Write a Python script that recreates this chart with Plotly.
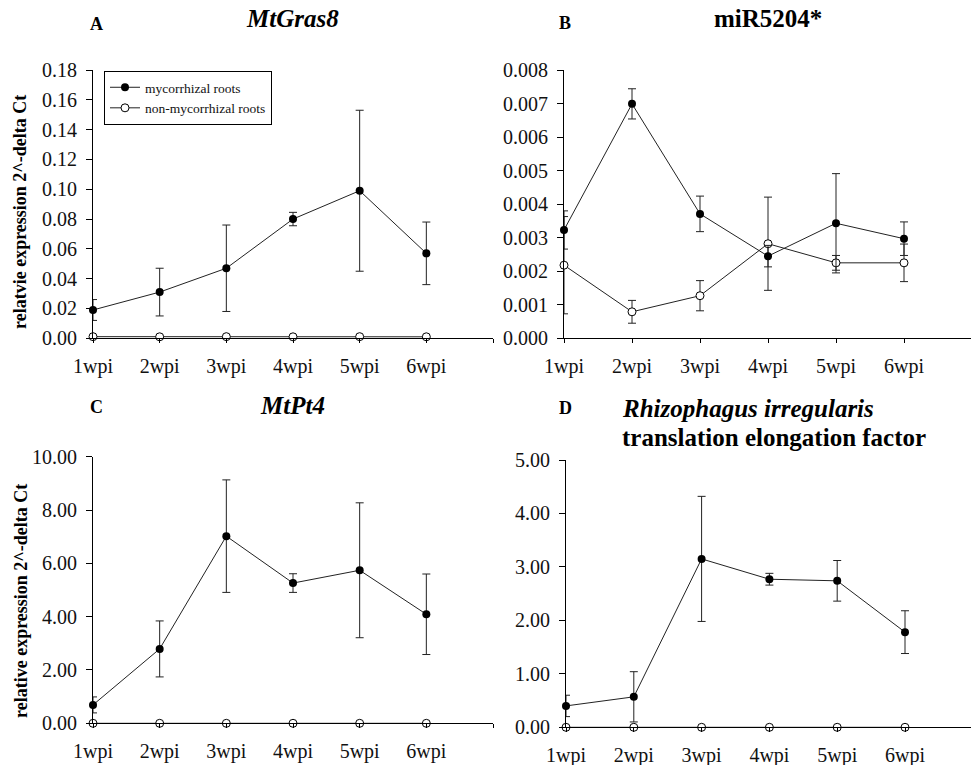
import plotly.graph_objects as go

W, H = 971, 765

weeks = ["1wpi", "2wpi", "3wpi", "4wpi", "5wpi", "6wpi"]
xpos = [1, 2, 3, 4, 5, 6]

# Panel A: MtGras8
a_myc = [0.019, 0.031, 0.047, 0.080, 0.099, 0.057]
a_myc_err = [0.007, 0.016, 0.029, 0.0045, 0.054, 0.021]
a_non = [0.0011, 0.0010, 0.0011, 0.0010, 0.0011, 0.0010]

# Panel B: miR5204*
b_myc = [0.00323, 0.00699, 0.00371, 0.00245, 0.00343, 0.00297]
b_myc_err = [0.00057, 0.00045, 0.00053, 0.00032, 0.00148, 0.00050]
b_non = [0.00218, 0.00079, 0.00127, 0.00282, 0.00225, 0.00225]
b_non_err = [0.00145, 0.00034, 0.00045, 0.00139, 0.00022, 0.00056]

# Panel C: MtPt4
c_myc = [0.69, 2.79, 7.02, 5.26, 5.74, 4.09]
c_myc_err = [0.30, 1.05, 2.11, 0.35, 2.53, 1.51]
c_non = [0.0, 0.0, 0.0, 0.0, 0.0, 0.0]

# Panel D: Rhizophagus irregularis translation elongation factor
d_myc = [0.40, 0.57, 3.15, 2.77, 2.74, 1.78]
d_myc_err = [0.20, 0.47, 1.17, 0.11, 0.38, 0.40]
d_non = [0.0, 0.0, 0.0, 0.0, 0.0, 0.0]

FONT = "Liberation Serif, Times New Roman, serif"


def px(x):
    return x / W


def py(y):
    return 1 - y / H


fig = go.Figure()

panels = [
    ("", a_myc, a_myc_err, a_non, None),
    ("2", b_myc, b_myc_err, b_non, b_non_err),
    ("3", c_myc, c_myc_err, c_non, None),
    ("4", d_myc, d_myc_err, d_non, None),
]

for sfx, myc, myc_err, non, non_err in panels:
    xa = "x" + sfx
    ya = "y" + sfx
    fig.add_trace(go.Scatter(
        x=xpos, y=non, xaxis=xa, yaxis=ya, mode="lines+markers",
        name="non-mycorrhizal roots", showlegend=False,
        line=dict(color="#222", width=1),
        marker=dict(symbol="circle", size=8, color="white", line=dict(color="black", width=1)),
        error_y=(dict(type="data", array=non_err, visible=True, color="#222", thickness=1, width=4)
                 if non_err is not None else None),
        cliponaxis=False,
    ))
    fig.add_trace(go.Scatter(
        x=xpos, y=myc, xaxis=xa, yaxis=ya, mode="lines+markers",
        name="mycorrhizal roots", showlegend=False,
        line=dict(color="#222", width=1),
        marker=dict(symbol="circle", size=8, color="black"),
        error_y=dict(type="data", array=myc_err, visible=True, color="#222", thickness=1, width=4),
        cliponaxis=False,
    ))

# legend entries (panel A)
fig.add_trace(go.Scatter(x=[None], y=[None], mode="lines+markers", name="mycorrhizal roots",
                         line=dict(color="#222", width=1),
                         marker=dict(size=8, color="black")))
fig.add_trace(go.Scatter(x=[None], y=[None], mode="lines+markers", name="non-mycorrhizal roots",
                         line=dict(color="#222", width=1),
                         marker=dict(size=8, color="white", line=dict(color="black", width=1))))

common_x = dict(showline=True, linecolor="black", linewidth=1, ticks="outside", ticklen=4,
                tickcolor="black", showgrid=False, zeroline=False, automargin=False,
                ticklabelstandoff=6,
                tickvals=[1, 2, 3, 4, 5, 6, 7], ticktext=weeks + [""],
                tickfont=dict(family=FONT, size=20, color="#111"))
common_y = dict(showline=True, linecolor="black", linewidth=1, ticks="outside", ticklen=6,
                tickcolor="black", showgrid=False, zeroline=False, automargin=False,
                ticklabelstandoff=5,
                tickfont=dict(family=FONT, size=20, color="#111"))

fig.update_layout(
    width=W, height=H, margin=dict(l=0, r=0, t=0, b=0, autoexpand=False), autosize=False,
    plot_bgcolor="white", paper_bgcolor="white",
    xaxis=dict(domain=[px(93), px(493)], range=[1, 7], anchor="y", **common_x),
    yaxis=dict(domain=[py(338.3), py(70)], range=[0, 0.18], dtick=0.02, tickformat=".2f",
               anchor="x", **common_y),
    xaxis2=dict(domain=[px(564), 1.0], range=[1, 1 + (971 - 564) / 68.0], anchor="y2", **common_x),
    yaxis2=dict(domain=[py(338.3), py(70)], range=[0, 0.008], dtick=0.001, tickformat=".3f",
                anchor="x2", **common_y),
    xaxis3=dict(domain=[px(93), px(493)], range=[1, 7], anchor="y3", **common_x),
    yaxis3=dict(domain=[py(723.3), py(456.7)], range=[0, 10], dtick=2, tickformat=".2f",
                anchor="x3", **common_y),
    xaxis4=dict(domain=[px(566), 1.0], range=[1, 1 + (971 - 566) / 67.8], anchor="y4", **common_x),
    yaxis4=dict(domain=[py(727.3), py(460)], range=[0, 5], dtick=1, tickformat=".2f",
                anchor="x4", **common_y),
    legend=dict(x=px(104), y=py(71), xanchor="left", yanchor="top",
                bordercolor="black", borderwidth=1, bgcolor="white",
                font=dict(family=FONT, size=13.5, color="#111"),
                tracegroupgap=0, itemwidth=30),
    showlegend=True,
)

ann = []


def text(x, y, s, size, xanchor="center", angle=0):
    ann.append(dict(x=px(x), y=py(y), xref="paper", yref="paper", text=s, showarrow=False,
                    xanchor=xanchor, yanchor="middle", textangle=angle,
                    font=dict(family=FONT, size=size, color="black")))


text(88, 24, "<b>A</b>", 18, "left")
text(292, 18, "<b><i>MtGras8</i></b>", 25)
text(557, 23, "<b>B</b>", 18, "left")
text(768, 18, "<b>miR5204*</b>", 25)
text(88, 407, "<b>C</b>", 18, "left")
text(292, 405, "<b><i>MtPt4</i></b>", 25)
text(557, 408, "<b>D</b>", 18, "left")
text(620, 408, "<b><i>Rhizophagus irregularis</i></b>", 25, "left")
text(620, 437, "<b>translation elongation factor</b>", 25, "left")
text(20, 212, "<b>relatvie expression 2^-delta Ct</b>", 18, angle=-90)
text(21, 601, "<b>relative expression 2^-delta Ct</b>", 18, angle=-90)

fig.update_layout(annotations=ann)

fig.write_html("out.html")
